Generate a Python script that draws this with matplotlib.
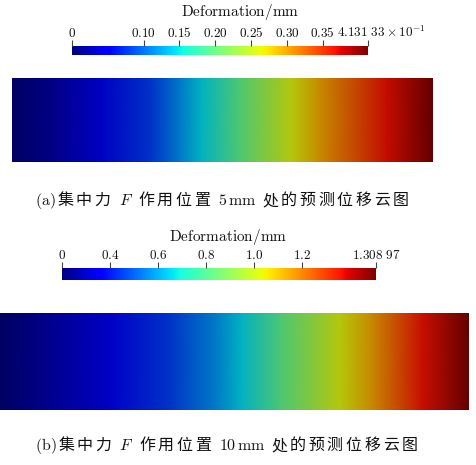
"""Predicted deformation contour plots for a point load F at 5 mm and 10 mm."""

import matplotlib

matplotlib.use("Agg")
import matplotlib.pyplot as plt
import numpy as np
from matplotlib.colors import ListedColormap
from matplotlib import transforms

plt.rcParams["mathtext.fontset"] = "cm"
plt.rcParams["font.family"] = ["Noto Sans CJK SC", "DejaVu Sans"]

W, H = 477, 465

# (a) load at 5 mm
a_max = 0.413133
a_ticks = [0, 0.10, 0.15, 0.20, 0.25, 0.30, 0.35, a_max]
a_tick_labels = ["0", "0.10", "0.15", "0.20", "0.25", "0.30", "0.35", r"4.131\ 33\times10^{-1}"]
a_pos = [0.0, 0.10, 0.21, 0.33, 0.40, 0.45, 0.54, 0.665, 0.73, 0.89, 1.0]
a_def = [0.0, 0.017, 0.045, 0.078, 0.116, 0.145, 0.194, 0.260, 0.297, 0.368, 0.413]

# (b) load at 10 mm
b_max = 1.30897
b_ticks = [0, 0.2, 0.4, 0.6, 0.8, 1.0, b_max]
b_tick_labels = ["0", "0.4", "0.6", "0.8", "1.0", "1.2", r"1.308\ 97"]
b_pos = [0.0, 0.09, 0.235, 0.36, 0.46, 0.515, 0.60, 0.725, 0.79, 0.90, 1.0]
b_def = [0.0, 0.052, 0.144, 0.249, 0.367, 0.458, 0.615, 0.825, 0.942, 1.165, 1.309]

caption_a = [(r"$\mathrm{(a)}$", True), ("集中力", False), (r"$F$", True), ("作用位置", False),
             (r"$\mathrm{5\,mm}$", True), ("处的预测位移云图", False)]
caption_b = [(r"$\mathrm{(b)}$", True), ("集中力", False), (r"$F$", True), ("作用位置", False),
             (r"$\mathrm{10\,mm}$", True), ("处的预测位移云图", False)]

jet = plt.get_cmap("jet")
shaded_jet = ListedColormap(jet(np.linspace(0, 1, 256))[:, :3] * 0.78)

fig = plt.figure(figsize=(W / 100, H / 100), dpi=100)


def px_axes(left, top, right, bottom):
    return fig.add_axes([left / W, 1 - bottom / H, (right - left) / W, (bottom - top) / H])


def draw_colorbar(box, vmax, ticks, labels, last_left=None):
    ax = px_axes(*box)
    grad = np.linspace(0, vmax, 512)[None, :]
    ax.imshow(grad, cmap=jet, vmin=0, vmax=vmax, aspect="auto",
              extent=(0, vmax, 0, 1), interpolation="bilinear")
    ax.set_xlim(0, vmax)
    ax.set_ylim(0, 1)
    ax.set_yticks([])
    ax.set_xticks(ticks)
    ax.xaxis.tick_top()
    ax.tick_params(axis="x", direction="out", length=4.5, width=0.8, color="#444444",
                   labeltop=False, labelbottom=False)
    for side in ax.spines.values():
        side.set_visible(False)
    trans = transforms.blended_transform_factory(ax.transData, ax.transAxes)
    for i, (val, lab) in enumerate(zip(ticks, labels)):
        ha, shift = "center", 0
        if last_left is not None and i == len(ticks) - 1:
            ha, shift = "left", last_left
        t = transforms.offset_copy(trans, fig=fig, x=shift, y=6.5, units="points")
        ax.text(val, 1, "$" + lab + "$", transform=t, ha=ha, va="baseline",
                fontsize=9.5, color="#111111")
    return ax


def draw_plate(box, pos, values, vmax):
    ax = px_axes(*box)
    z = np.vstack([values, values])
    ax.pcolormesh(pos, [0, 1], z, shading="gouraud", cmap=shaded_jet, vmin=0, vmax=vmax)
    ax.set_xlim(0, 1)
    ax.set_ylim(0, 1)
    ax.set_axis_off()
    return ax


def write_caption(pieces, x0, baseline, size=11.5, pitch=18.6, gap=5.5):
    renderer = fig.canvas.get_renderer()
    x = x0
    for k, (piece, is_math) in enumerate(pieces):
        if is_math:
            if k > 0:
                x += gap
            t = fig.text(x / W, 1 - baseline / H, piece, fontsize=size,
                         ha="left", va="baseline", color="#111111")
            x += t.get_window_extent(renderer).width
            x += gap if k > 0 else 1.5
        else:
            for ch in piece:
                fig.text(x / W, 1 - baseline / H, ch, fontsize=size,
                         ha="left", va="baseline", color="#111111")
                x += pitch


fig.text(240 / W, 1 - 12 / H, r"$\mathrm{Deformation/mm}$", ha="center", va="center",
         fontsize=11, color="#111111")
draw_colorbar((72, 46, 368, 55), a_max, a_ticks, a_tick_labels, last_left=-22)
draw_plate((12, 78, 433, 162), a_pos, a_def, a_max)
write_caption(caption_a, 35, 205)

fig.text(228 / W, 1 - 237 / H, r"$\mathrm{Deformation/mm}$", ha="center", va="center",
         fontsize=11, color="#111111")
draw_colorbar((62, 268, 376, 280), b_max, b_ticks, b_tick_labels)
draw_plate((0, 313, 469, 410), b_pos, b_def, b_max)
write_caption(caption_b, 35, 450)

fig.savefig("out.png", dpi=100)
plt.close(fig)
